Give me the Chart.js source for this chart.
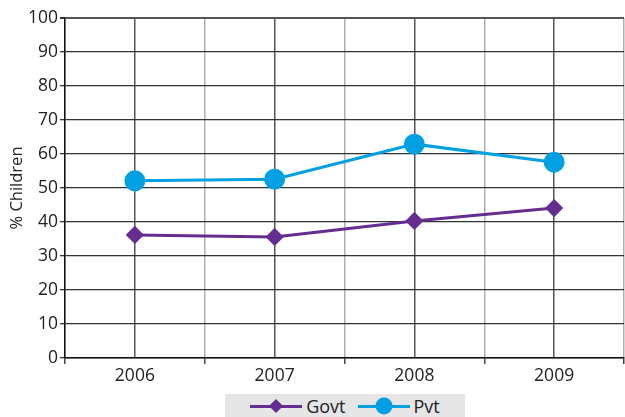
<!DOCTYPE html>
<html>
<head>
<meta charset="utf-8">
<script src="https://cdn.jsdelivr.net/npm/chart.js@4"></script>
<style>
  html, body { margin: 0; background: #fff; overflow: hidden; }
  #wrap { position: relative; width: 625px; height: 417px; }
  #main-chart { display: block; }
  #legend {
    position: absolute; left: 225px; top: 394px; width: 240px; height: 23px;
    background: #e6e6e7; display: flex; align-items: center; justify-content: center;
    font-family: "Open Sans", "DejaVu Sans", sans-serif; font-size: 18px; color: #222;
  }
  .item { display: flex; align-items: center; margin: 0 6px; }
  .swatch { position: relative; width: 52px; height: 16px; margin-right: 4px; }
  .swatch .ln { position: absolute; left: 0; right: 0; top: 7px; height: 3px; }
  .swatch .mk { position: absolute; left: 50%; top: 50%; transform: translate(-50%, -50%); }
</style>
</head>
<body>
<div id="wrap">
  <canvas id="main-chart"></canvas>
  <div id="legend"></div>
</div>
<script>
const years = [2006, 2007, 2008, 2009];
const govt = [36.2, 35.6, 40.3, 44.1];
const pvt = [52.1, 52.6, 62.9, 57.6];
const y_ticks = [0, 10, 20, 30, 40, 50, 60, 70, 80, 90, 100];

const chart_width = 625;
const chart_height = 417;

const govt_color = "#662d91";
const pvt_color = "#00a0e3";

let main_chart = document.getElementById("main-chart");
main_chart.width = chart_width;
main_chart.height = chart_height;
main_chart.style.width = chart_width + "px";
main_chart.style.height = chart_height + "px";
let chart_ctx = main_chart.getContext('2d');

function points(values)
{
    return values.map((v, i) => ({x: years[i], y: v}));
}

const font_family = "'Open Sans', 'DejaVu Sans', sans-serif";

const config = {
    type: 'line',
    data: {
        datasets: [
            {
                label: 'Govt',
                data: points(govt),
                borderColor: govt_color,
                backgroundColor: govt_color,
                borderWidth: 3,
                pointStyle: 'rectRot',
                pointRadius: 7,
            },
            {
                label: 'Pvt',
                data: points(pvt),
                borderColor: pvt_color,
                backgroundColor: pvt_color,
                borderWidth: 3,
                pointStyle: 'circle',
                pointRadius: 9,
            }
        ]
    },
    options: {
        responsive: false,
        animation: false,
        layout: { autoPadding: false, padding: { top: 18, right: 1, left: 0, bottom: 0 } },
        plugins: {
            legend: { display: false },
            tooltip: { enabled: false }
        },
        scales: {
            x: {
                type: 'linear',
                min: years[0] - 0.5,
                max: years[years.length - 1] + 0.5,
                afterBuildTicks: (scale) => {
                    let t = [];
                    for (let v = scale.min; v <= scale.max + 0.01; v += 0.5)
                        t.push({value: v});
                    scale.ticks = t;
                },
                afterFit: (scale) => {
                    scale.height = 59;
                    scale.paddingLeft = 0;
                    scale.paddingRight = 0;
                },
                ticks: {
                    autoSkip: false,
                    maxRotation: 0,
                    padding: 2,
                    color: "#222",
                    font: { family: font_family, size: 17.5 },
                    callback: (v) => Number.isInteger(v) ? String(v) : ''
                },
                grid: {
                    color: (c) => Number.isInteger(c.tick.value) ? "#555" : "#b0b0b0",
                    tickColor: (c) => Number.isInteger(c.tick.value) ? "rgba(0,0,0,0)" : "#444",
                    tickLength: 6,
                    lineWidth: 1.5
                },
                border: { color: "#111", width: 1.5 }
            },
            y: {
                min: 0,
                max: 100,
                afterBuildTicks: (scale) => { scale.ticks = y_ticks.map(v => ({value: v})); },
                afterFit: (scale) => { scale.width = 65; },
                ticks: {
                    padding: 2,
                    color: "#222",
                    font: { family: font_family, size: 17.5 }
                },
                grid: {
                    color: (c) => c.tick.value === 100 ? "#555" : "#333",
                    lineWidth: (c) => c.tick.value === 100 ? 2 : 1.3,
                    tickColor: "#333",
                    tickLength: 5
                },
                border: { color: "#111", width: 1.5 },
                title: {
                    display: true,
                    text: '% Children',
                    color: "#222",
                    padding: { top: 7, bottom: 0 },
                    font: { family: font_family, size: 16.5 }
                }
            }
        }
    }
};

let chart = new Chart(chart_ctx, config);

// html legend: line with marker in the middle
let legend = document.getElementById("legend");
chart.data.datasets.forEach((ds) => {
    let item = document.createElement("div");
    item.className = "item";
    let sw = document.createElement("div");
    sw.className = "swatch";
    let ln = document.createElement("div");
    ln.className = "ln";
    ln.style.background = ds.borderColor;
    let mk = document.createElement("div");
    mk.className = "mk";
    mk.style.background = ds.borderColor;
    if (ds.pointStyle == 'circle') {
        mk.style.width = "17px"; mk.style.height = "17px"; mk.style.borderRadius = "50%";
    } else {
        mk.style.width = "10px"; mk.style.height = "10px";
        mk.style.transform = "translate(-50%, -50%) rotate(45deg)";
    }
    sw.appendChild(ln);
    sw.appendChild(mk);
    let txt = document.createElement("span");
    txt.innerText = ds.label;
    item.appendChild(sw);
    item.appendChild(txt);
    legend.appendChild(item);
});
</script>
</body>
</html>
